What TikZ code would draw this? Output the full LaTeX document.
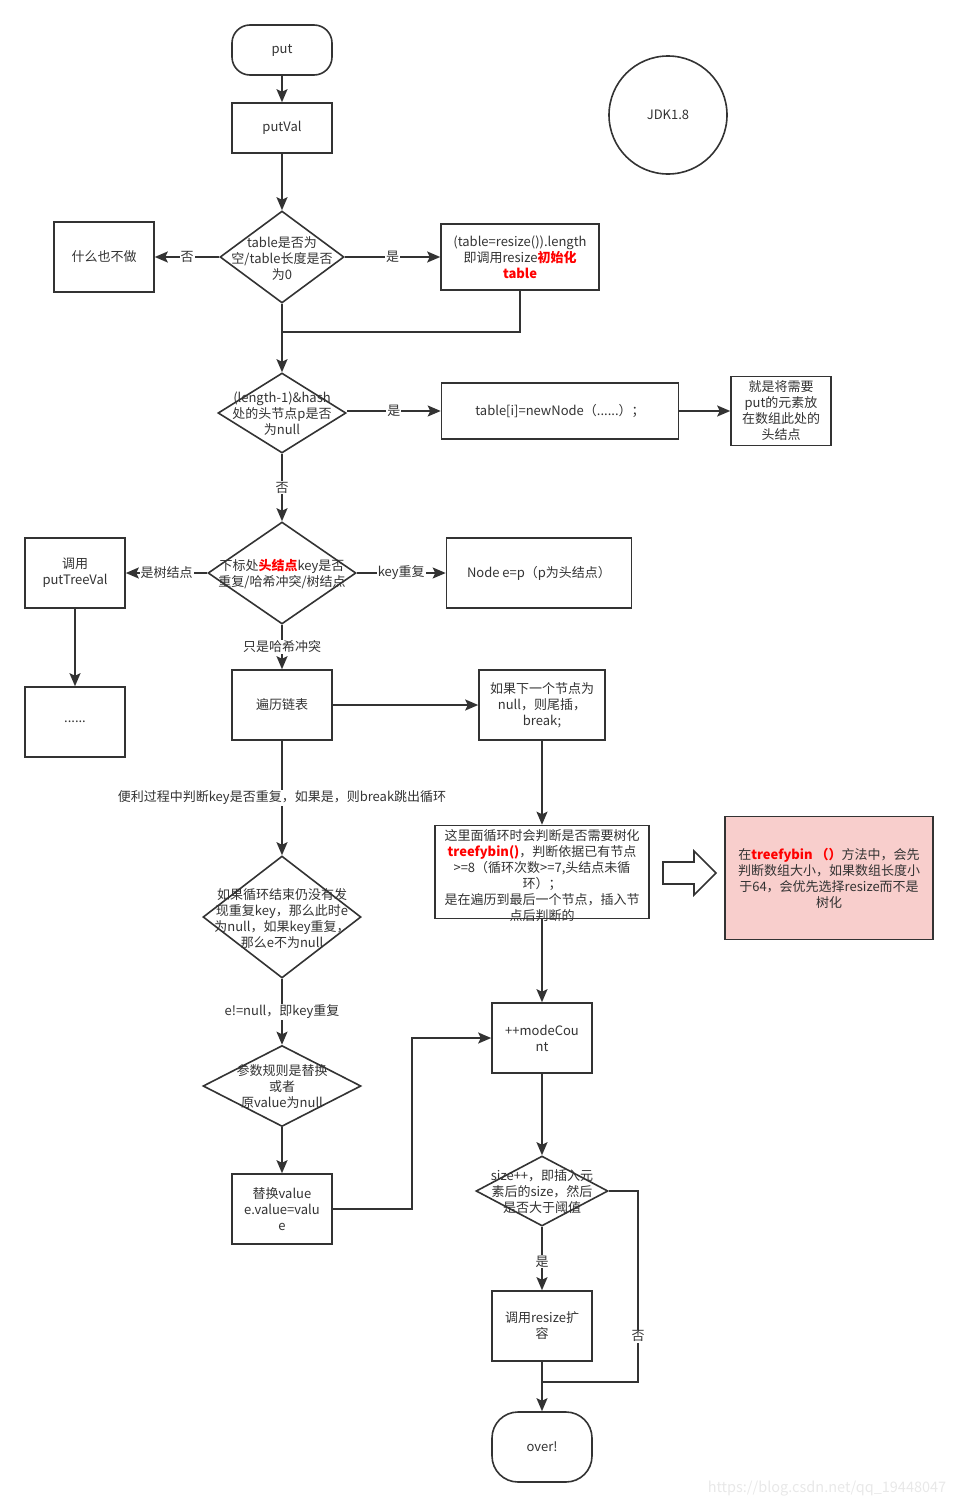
\documentclass[tikz,border=0pt]{standalone}
\usepackage{fontspec}
\setmainfont{Noto Sans CJK SC}
\usepackage{xcolor}
\usepackage{tikz}
\usetikzlibrary{arrows.meta,shapes.geometric}
\definecolor{linex}{HTML}{333333}
\definecolor{redx}{HTML}{FF0000}
\definecolor{pinkx}{HTML}{F8CECC}
\newcommand\boxfont{\fontsize{13}{16}\selectfont}
\newcommand\redb[1]{\textcolor{redx}{\bfseries #1}}
\tikzset{
  ar/.style={-{Stealth[length=13pt,width=11pt,inset=2.5pt]},line width=1.6pt,linex},
  ln/.style={line width=1.6pt,linex},
  box/.style={draw=linex,line width=1.6pt,fill=white,align=center,inner sep=2pt,text=linex,font=\boxfont},
  term/.style={box,rounded corners=18pt},
  dia/.style={diamond,draw=linex,line width=1.6pt,fill=white,inner sep=0pt},
  txt/.style={align=center,inner sep=0pt,text=linex,font=\boxfont},
  lbl/.style={fill=white,inner sep=1pt,text=linex,font=\boxfont}
}
\begin{document}
\begin{tikzpicture}[x=1pt,y=-1pt]
\useasboundingbox (0,0) rectangle (958,1507);
\node[term,minimum width=100,minimum height=50] (put) at (282,50) {put};
\node[box,minimum width=100,minimum height=50] (putval) at (282,128) {putVal};
\node[circle,draw=linex,line width=1.6pt,minimum size=118,text=linex,font=\boxfont] (jdk) at (668,115) {JDK1.8};
\node[dia,minimum width=124,minimum height=92] (d1) at (282,257) {};
\node[txt] (d1t) at ([yshift=-2]d1) {table是否为\\空/table长度是否\\为0};
\node[box,minimum width=100,minimum height=70] (nothing) at (104,257) {什么也不做};
\node[box,minimum width=158,minimum height=66] (init) at (520,257) {(table=resize()).length\\即调用resize\redb{初始化}\\\redb{table}};
\coordinate (j1) at (282,332);
\node[dia,minimum width=128,minimum height=80] (d2) at (282,413) {};
\node[txt] (d2t) at ([yshift=-1]d2) {(length-1)\&hash\\处的头节点p是否\\为null};
\node[box,minimum width=237,minimum height=56] (newn) at (560,411) {table[i]=newNode（......）；};
\node[box,minimum width=100,minimum height=69] (head) at (781,411) {就是将需要\\put的元素放\\在数组此处的\\头结点};
\node[dia,minimum width=148,minimum height=102] (d3) at (282,573) {};
\node[txt] (d3t) at ([yshift=-1]d3) {下标处\redb{头结点}key是否\\重复/哈希冲突/树结点};
\node[box,minimum width=100,minimum height=70] (ptv) at (75,573) {调用\\putTreeVal};
\node[box,minimum width=185,minimum height=70] (enp) at (539,573) {Node e=p（p为头结点）};
\node[box,minimum width=100,minimum height=70] (dots) at (75,722) {......};
\node[box,minimum width=100,minimum height=70] (trav) at (282,705) {遍历链表};
\node[box,minimum width=126,minimum height=70] (tail) at (542,705) {如果下一个节点为\\null，则尾插，\\break;};
\node[dia,minimum width=158,minimum height=122] (d4) at (282,917) {};
\node[txt] (d4t) at ([yshift=-2]d4) {如果循环结束仍没有发\\现重复key，那么此时e\\为null，如果key重复，\\那么e不为null};
\node[box,minimum width=214,minimum height=93] (loop) at (542,872) {};
\node[txt] (loopt) at (542,876) {这里面循环时会判断是否需要树化\\\redb{treefybin()}，判断依据已有节点\\>=8（循环次数>=7,头结点未循\\环）；\\是在遍历到最后一个节点，插入节\\点后判断的};
\draw[line width=1.6pt,draw=linex,fill=white] (663,862) -- (694,862) -- (694,851) -- (716,873) -- (694,895) -- (694,884) -- (663,884) -- cycle;
\node[box,fill=pinkx,minimum width=208,minimum height=123] (tree) at (829,878) {在\redb{treefybin （）}方法中，会先\\判断数组大小，如果数组长度小\\于64，会优先选择resize而不是\\树化};
\node[box,minimum width=100,minimum height=70] (mod) at (542,1038) {++modeCou\\nt};
\node[dia,minimum width=158,minimum height=81] (d5) at (282,1086) {};
\node[txt] (d5t) at ([yshift=-1]d5) {参数规则是替换\\或者\\原value为null};
\node[box,minimum width=100,minimum height=70] (repl) at (282,1209) {替换value\\e.value=valu\\e};
\coordinate (c1) at (412,1209);
\node[dia,minimum width=132,minimum height=70] (d6) at (542,1191) {};
\node[txt] (d6t) at ([yshift=-1]d6) {size++，即插入元\\素后的size，然后\\是否大于阈值};
\node[box,minimum width=100,minimum height=70] (rsz) at (542,1326) {调用resize扩\\容};
\coordinate (c2) at (638,1382);
\coordinate (j2) at (542,1382);
\node[term,rounded corners=26pt,minimum width=100,minimum height=70] (over) at (542,1447) {over!};
\node[text=gray!18,font=\fontsize{14.5}{16}\selectfont] (wm) at (827,1489) {https://blog.csdn.net/qq\_19448047};
\draw[ar] (put) -- (putval);
\draw[ar] (putval) -- (d1);
\draw[ar] (d1.west) -- node[lbl]{否} (nothing.east);
\draw[ar] (d1.east) -- node[lbl]{是} (init.west);
\draw[ln] (init.south) |- (j1);
\draw[ar] (d1.south) -- (d2.north);
\draw[ar] (d2.east |- newn.west) -- node[lbl]{是} (newn.west);
\draw[ar] (newn.east) -- (head.west);
\draw[ar] (d2.south) -- node[lbl]{否} (d3.north);
\draw[ar] (d3.west) -- node[lbl]{是树结点} (ptv.east);
\draw[ar] (d3.east) -- node[lbl]{key重复} (enp.west);
\draw[ar] (ptv) -- (dots);
\draw[ar] (d3.south) -- node[lbl]{只是哈希冲突} (trav.north);
\draw[ar] (trav) -- (tail);
\draw[ar] (trav.south) -- node[lbl]{便利过程中判断key是否重复，如果是，则break跳出循环} (d4.north);
\draw[ar] (tail) -- (loop);
\draw[ar] (loop) -- (mod);
\draw[ar] (d4.south) -- node[lbl]{e!=null，即key重复} (d5.north);
\draw[ar] (d5) -- (repl);
\draw[ar] (repl.east) -- (c1) |- (mod.west);
\draw[ar] (mod) -- (d6);
\draw[ar] (d6.south) -- node[lbl,pos=0.55]{是} (rsz.north);
\draw[ln] (d6.east) -| node[lbl,pos=0.88]{否} (c2) -- (j2);
\draw[ar] (rsz) -- (over);
\end{tikzpicture}
\end{document}
